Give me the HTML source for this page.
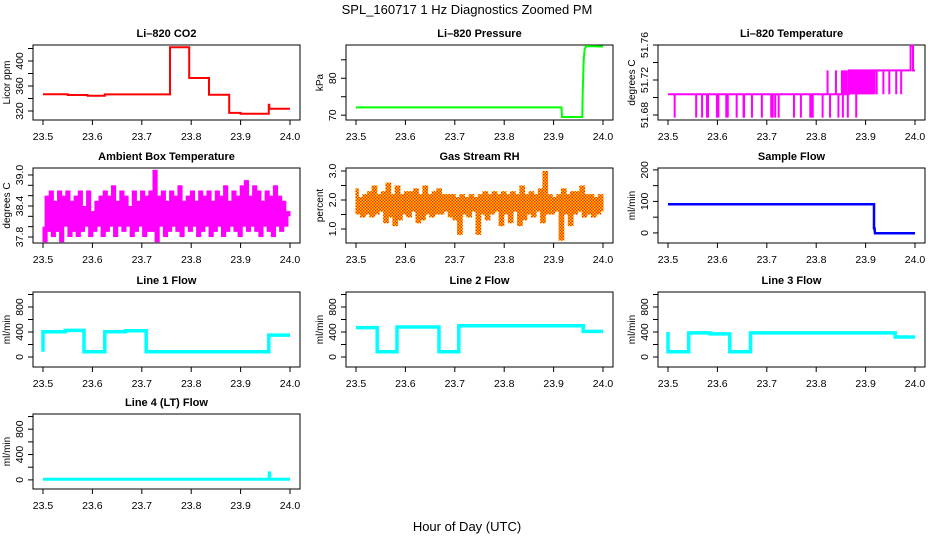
<!DOCTYPE html>
<html><head><meta charset="utf-8"><style>
html,body{margin:0;padding:0;background:#fff}
svg{display:block;font-family:"Liberation Sans",sans-serif}
</style></head><body>
<svg id="fig" width="936" height="540" viewBox="0 0 936 540" xmlns="http://www.w3.org/2000/svg">
<text x="467" y="14" font-size="13" text-anchor="middle">SPL_160717  1 Hz Diagnostics Zoomed PM</text>
<text x="467" y="531" font-size="13" text-anchor="middle">Hour of Day (UTC)</text>
</svg>
<script>
// ---- data arrays ----
const xTicks = [23.5, 23.6, 23.7, 23.8, 23.9, 24.0];
const xTickLabels = ["23.5", "23.6", "23.7", "23.8", "23.9", "24.0"];

const co2Times  = [23.5, 23.55, 23.59, 23.625, 23.757, 23.796, 23.836, 23.877, 23.9, 23.957, 23.958, 23.96, 24.0];
const co2Values = [346.7, 345.6, 344.5, 346.5, 422, 372.8, 346, 317, 315.7, 330, 323.7, 323.7, 323.7];

const presTimes  = [23.5, 23.916, 23.917, 23.958, 23.959, 23.961, 23.963, 23.966, 24.0];
const presValues = [72.1, 72.1, 69.5, 69.5, 76, 85, 88, 88.7, 88.6];

const tempBaseTimes  = [23.5, 23.866, 23.991, 23.996, 24.0];
const tempBaseValues = [51.7037, 51.731, 51.759, 51.731, 51.731];
const tempDownTimes = [23.5135,23.557,23.569,23.579,23.581,23.599,23.602,23.618,23.621,23.639,23.653,23.654,23.670,23.690,23.709,23.712,23.717,23.724,23.755,23.769,23.788,23.790,23.793,23.813,23.828,23.845,23.854,23.864];
const tempDownValues = [51.677,51.677,51.677,51.677,51.677,51.677,51.677,51.677,51.677,51.677,51.677,51.677,51.677,51.677,51.677,51.677,51.677,51.677,51.677,51.677,51.677,51.677,51.677,51.677,51.677,51.677,51.677,51.677];
const tempUpTimes = [23.823,23.840,23.852,23.855,23.857,23.859,23.862];
const tempUpValues = [51.731,51.731,51.731,51.731,51.731,51.731,51.731];
const tempDenseTimes = [23.868,23.870,23.872,23.874,23.876,23.878,23.880,23.881,23.883,23.885,23.887,23.889,23.891,23.893,23.895,23.897,23.899,23.901,23.903,23.905,23.907,23.909,23.911,23.913,23.915,23.918,23.9225,23.936,23.948,23.962,23.972];
const tempDenseValues = [51.7037,51.7037,51.7037,51.7037,51.7037,51.7037,51.7037,51.677,51.7037,51.7037,51.7037,51.7037,51.7037,51.7037,51.7037,51.7037,51.7037,51.7037,51.7037,51.7037,51.7037,51.7037,51.7037,51.7037,51.7037,51.7037,51.7037,51.7037,51.7037,51.7037,51.7037];

const ambValues = [38.0,37.7,38.6,37.9,38.7,37.8,38.5,37.9,38.7,37.7,38.6,38.0,38.7,37.8,38.5,37.9,38.6,37.8,38.7,37.9,38.4,38.0,38.7,37.8,38.3,37.9,38.5,38.0,38.6,37.8,38.7,37.9,38.6,38.0,38.8,37.8,38.5,38.0,38.7,37.9,38.6,38.0,38.4,37.8,38.7,37.9,38.5,38.0,38.7,37.8,38.6,37.9,38.7,37.9,39.1,37.7,38.6,38.0,38.7,37.8,38.5,37.9,38.7,38.0,38.6,37.9,38.8,37.8,38.5,38.0,38.6,37.9,38.7,38.0,38.5,37.8,38.7,37.9,38.6,38.0,38.7,37.8,38.5,37.9,38.7,38.0,38.6,37.8,38.8,37.9,38.5,38.0,38.7,37.9,38.6,37.8,38.8,38.0,38.9,37.9,38.6,38.0,38.8,37.9,38.7,37.8,38.5,38.0,38.7,37.9,38.6,37.8,38.8,38.0,38.6,37.9,38.5,38.0,38.3,38.2];
const rhValues = [2.4,1.5,2.1,1.4,2.2,1.5,2.3,1.4,2.5,1.5,2.2,1.6,2.3,1.2,2.6,1.4,2.2,1.1,2.5,1.3,2.2,1.5,2.3,1.4,2.3,1.6,2.4,1.2,2.2,1.3,2.5,1.5,2.2,1.4,2.3,1.5,2.4,1.5,2.2,1.6,2.2,1.4,2.2,1.3,2.1,0.8,2.2,1.5,2.1,1.4,2.2,1.6,2.1,0.8,2.2,1.5,2.3,1.3,2.2,1.5,2.3,1.6,2.2,1.1,2.3,1.5,2.2,1.2,2.3,1.6,2.2,1.1,2.5,1.3,2.2,1.5,2.3,1.4,2.2,1.6,2.4,1.2,3.0,1.5,2.2,1.5,2.1,1.6,2.2,0.6,2.4,1.5,2.2,1.1,2.3,1.5,2.3,1.6,2.5,1.4,2.2,1.5,2.2,1.4,2.1,1.5,2.2,1.6];

const sampleTimes  = [23.5, 23.917, 23.917, 23.918, 23.919, 24.0];
const sampleValues = [91, 91, 15, 15, -1, -1];

const line1Times  = [23.5, 23.5, 23.545, 23.545, 23.583, 23.583, 23.625, 23.625, 23.667, 23.667, 23.709, 23.709, 23.957, 23.957, 24.0];
const line1Values = [85, 405, 405, 425, 425, 85, 85, 405, 405, 420, 420, 85, 85, 350, 350];
const line2Times  = [23.5, 23.543, 23.543, 23.583, 23.583, 23.668, 23.668, 23.708, 23.708, 23.96, 23.96, 24.0];
const line2Values = [470, 470, 85, 85, 480, 480, 85, 85, 500, 500, 410, 410];
const line3Times  = [23.5, 23.5, 23.542, 23.542, 23.585, 23.585, 23.625, 23.625, 23.667, 23.667, 23.96, 23.96, 24.0];
const line3Values = [400, 85, 85, 385, 385, 370, 370, 85, 85, 385, 385, 320, 320];
const line4Times  = [23.5, 23.958, 23.958, 23.959, 23.959, 24.0];
const line4Values = [10, 10, 110, 110, 10, 10];

const co2Ticks=[320,340,360,380,400,420], co2Labels=["320","","360","","400",""];
const presTicks=[70,75,80,85], presLabels=["70","","80",""];
const tempTicks=[51.68,51.70,51.72,51.74,51.76], tempLabels=["51.68","","51.72","","51.76"];
const ambTicks=[37.8,38.0,38.2,38.4,38.6,38.8,39.0], ambLabels=["37.8","","","38.4","","","39.0"];
const rhTicks=[1.0,1.5,2.0,2.5,3.0], rhLabels=["1.0","","2.0","","3.0"];
const sampTicks=[0,50,100,150,200], sampLabels=["0","","100","","200"];
const flowTicks=[0,200,400,600,800,1000], flowLabels=["0","","400","","800",""];

// ---- rendering ----
const NS="http://www.w3.org/2000/svg";
const svg=document.getElementById('fig');
const COLS=[33,346,658], ROWS=[45,168,292,414], W=267, H=75;
function mk(tag,attrs,parent){const e=document.createElementNS(NS,tag);for(const k in attrs)e.setAttribute(k,attrs[k]);(parent||svg).appendChild(e);return e;}
function panel(id,c,r,title,ylab,yDom,yT,yL){
  const L=COLS[c],T=ROWS[r];
  const g=mk('g',{});
  
  
  const xs=v=>L+10+(v-23.5)/0.5*247;
  const ys=v=>T+H-(v-yDom[0])/(yDom[1]-yDom[0])*H;
  const box=mk('rect',{x:L,y:T,width:W,height:H,fill:'none',stroke:'#000','stroke-width':1},g);
  
  
  const t=mk('text',{x:L+W/2,y:T-8,'font-size':11,'font-weight':'bold','text-anchor':'middle'},g);
  t.textContent=title;
  
  
  const yl=mk('text',{x:0,y:0,'font-size':10,'text-anchor':'middle',transform:`translate(${L-23},${T+H/2}) rotate(-90)`},g);
  yl.textContent=ylab;
  
  
  const xa=mk('g',{stroke:'#000'},g);
  
  
  mk('line',{x1:xs(23.5),x2:xs(24.0),y1:T+H,y2:T+H},xa);
  xTicks.forEach((v,i)=>{
    mk('line',{x1:xs(v),x2:xs(v),y1:T+H,y2:T+H+5},xa);
    const tl=mk('text',{x:xs(v),y:T+H+20,'font-size':10.5,'text-anchor':'middle',stroke:'none'},xa);
    tl.textContent=xTickLabels[i];
  });
  const ya=mk('g',{stroke:'#000'},g);
  
  
  mk('line',{x1:L,x2:L,y1:ys(yT[0]),y2:ys(yT[yT.length-1])},ya);
  yT.forEach((v,i)=>{
    mk('line',{x1:L-5,x2:L,y1:ys(v),y2:ys(v)},ya);
    if(yL[i]){const tl=mk('text',{x:0,y:0,'font-size':10.5,'text-anchor':'middle',stroke:'none',transform:`translate(${L-10},${ys(v)}) rotate(-90)`},ya);tl.textContent=yL[i];}
  });
  return {g,xs,ys};
}
function poly(p,times,vals,color,w,name,extra){
  const pts=times.map((t,i)=>p.xs(t).toFixed(1)+','+p.ys(vals[i]).toFixed(1)).join(' ');
  const e=mk('polyline',Object.assign({points:pts,fill:'none',stroke:color,'stroke-width':w,'stroke-linejoin':'miter'},extra||{}),p.g);
  
  
  return e;
}
function stepPoly(p,times,vals,color,w,name){
  const t2=[],v2=[];
  for(let i=0;i<times.length;i++){ if(i>0){t2.push(times[i]);v2.push(vals[i-1]);} t2.push(times[i]);v2.push(vals[i]); }
  return poly(p,t2,v2,color,w,name);
}
function spikes(p,times,from,vals,color,name){
  const g=mk('g',{stroke:color,'stroke-width':2},p.g);
  
  
  times.forEach((t,i)=>mk('line',{x1:p.xs(t),x2:p.xs(t),y1:p.ys(from[i]),y2:p.ys(vals[i])},g));
}
// dense 1 Hz trace: fill between consecutive samples
function dense(p,times,vals,color,name,overlay){
  const g=mk('g',{fill:color},p.g);
  
  
  for(let i=0;i<vals.length-1;i++){
    const x0=p.xs(times[i]),x1=p.xs(times[i+1]);
    const y0=p.ys(Math.max(vals[i],vals[i+1])),y1=p.ys(Math.min(vals[i],vals[i+1]));
    mk('rect',{x:x0-0.5,y:y0,width:x1-x0+1,height:y1-y0},g);
    if(overlay){
      const o=mk('rect',{x:x0-0.5,y:y0,width:x1-x0+1,height:y1-y0,fill:'url(#dots)'},g);
    }
  }
}
function evenTimes(n){return Array.from({length:n},(_,i)=>23.5+0.5*i/(n-1));}

const defs=mk('defs',{});
const pat=mk('pattern',{id:'dots',width:3,height:3,patternUnits:'userSpaceOnUse'},defs);
mk('rect',{x:0,y:0,width:1.5,height:1.5,fill:'#ff2000'},pat);
mk('rect',{x:1.5,y:1.5,width:1.5,height:1.5,fill:'#ff2000'},pat);

// CO2
let p=panel('co2',0,0,'Li\u2013820 CO2','Licor ppm',[305.6,425.6],co2Ticks,co2Labels);
stepPoly(p,co2Times,co2Values,'#ff0000',2,'co2-line');
// Pressure
p=panel('pressure',1,0,'Li\u2013820 Pressure','kPa',[68.7,89.0],presTicks,presLabels);
poly(p,presTimes,presValues,'#00ff00',2,'pressure-line');
// Temperature
p=panel('li820-temp',2,0,'Li\u2013820 Temperature','degrees C',[51.6743,51.76],tempTicks,tempLabels);
stepPoly(p,tempBaseTimes,tempBaseValues,'#ff00ff',2,'li820-temp-line');
spikes(p,tempDownTimes,tempDownTimes.map(()=>51.7037),tempDownValues,'#ff00ff','li820-temp-down-spikes');
spikes(p,tempUpTimes,tempUpTimes.map(()=>51.7037),tempUpValues,'#ff00ff','li820-temp-up-spikes');
spikes(p,tempDenseTimes,tempDenseTimes.map(()=>51.731),tempDenseValues,'#ff00ff','li820-temp-dense-spikes');
// Ambient
p=panel('ambient-temp',0,1,'Ambient Box Temperature','degrees C',[37.684,39.135],ambTicks,ambLabels);
dense(p,evenTimes(ambValues.length),ambValues,'#ff00ff','ambient-temp-trace',false);
// RH
p=panel('gas-rh',1,1,'Gas Stream RH','percent',[0.517,3.103],rhTicks,rhLabels);
dense(p,evenTimes(rhValues.length),rhValues,'#ffd000','gas-rh-trace',true);
// Sample flow
p=panel('sample-flow',2,1,'Sample Flow','ml/min',[-32,206],sampTicks,sampLabels);
poly(p,sampleTimes,sampleValues,'#0000ff',2.5,'sample-flow-line');
// Lines
p=panel('line1-flow',0,2,'Line 1 Flow','ml/min',[-160,1040],flowTicks,flowLabels);
poly(p,line1Times,line1Values,'#00ffff',3.5,'line1-flow-line');
p=panel('line2-flow',1,2,'Line 2 Flow','ml/min',[-160,1040],flowTicks,flowLabels);
poly(p,line2Times,line2Values,'#00ffff',3.5,'line2-flow-line');
p=panel('line3-flow',2,2,'Line 3 Flow','ml/min',[-160,1040],flowTicks,flowLabels);
poly(p,line3Times,line3Values,'#00ffff',3.5,'line3-flow-line');
p=panel('line4-flow',0,3,'Line 4 (LT) Flow','ml/min',[-144,1040],flowTicks,flowLabels);
poly(p,line4Times,line4Values,'#00ffff',3,'line4-flow-line');
</script>
</body></html>
